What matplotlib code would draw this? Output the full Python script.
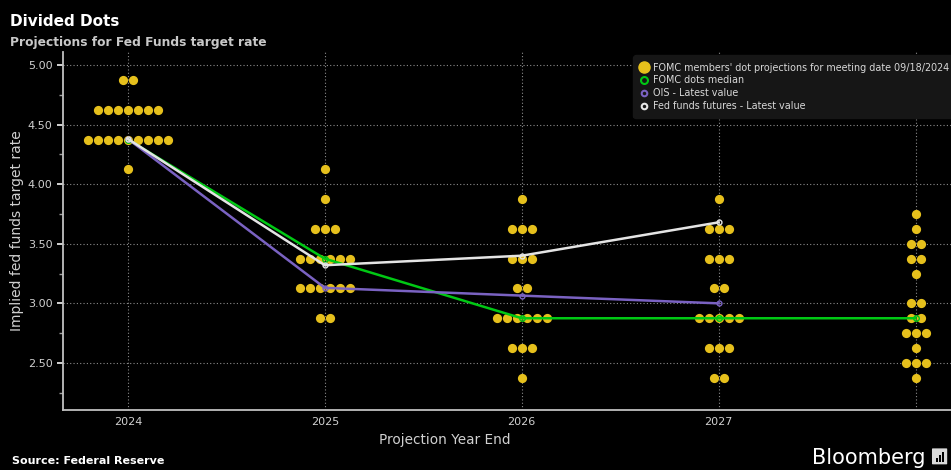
import matplotlib.pyplot as plt
from matplotlib.lines import Line2D
from matplotlib.patches import FancyBboxPatch, Rectangle

# FOMC dot plot, 09/18/2024 meeting: rate level -> number of dots, per year
years = [2024, 2025, 2026, 2027, 2028]   # 2028 = longer run (no label)
year_labels = ['2024', '2025', '2026', '2027', '']
dots_2024 = {4.875: 2, 4.625: 7, 4.375: 9, 4.125: 1}
dots_2025 = {4.125: 1, 3.875: 1, 3.625: 3, 3.375: 6, 3.125: 6, 2.875: 2}
dots_2026 = {3.875: 1, 3.625: 3, 3.375: 3, 3.125: 2, 2.875: 6, 2.625: 3, 2.375: 1}
dots_2027 = {3.875: 1, 3.625: 3, 3.375: 3, 3.125: 2, 2.875: 5, 2.625: 3, 2.375: 2}
dots_longrun = {3.75: 1, 3.625: 1, 3.5: 2, 3.375: 2, 3.25: 1, 3.0: 2,
                2.875: 2, 2.75: 3, 2.625: 1, 2.5: 3, 2.375: 1}
all_dots = [dots_2024, dots_2025, dots_2026, dots_2027, dots_longrun]

median_years = [2024, 2025, 2026, 2027, 2028]
median_vals = [4.375, 3.375, 2.875, 2.875, 2.875]
ois_years = [2024, 2025, 2026, 2027]
ois_vals = [4.38, 3.13, 3.065, 3.00]
futures_years = [2024, 2025, 2026, 2027]
futures_vals = [4.38, 3.32, 3.40, 3.68]

yticks = [2.5, 3.0, 3.5, 4.0, 4.5, 5.0]

fig = plt.figure(figsize=(9.51, 4.70), dpi=100, facecolor='black')
ax = fig.add_axes([0.0662, 0.1277, 0.9338, 0.7617], facecolor='black')

gold = '#e6c01c'
spacing = 0.0508   # horizontal gap between dots on the same level
for yr, d in zip(years, all_dots):
    xs, ys = [], []
    for lvl, n in d.items():
        for i in range(n):
            xs.append(yr + (i - (n - 1) / 2) * spacing)
            ys.append(lvl)
    ax.scatter(xs, ys, s=44, color=gold, zorder=3, linewidths=0)

ax.plot(median_years, median_vals, color='#00c814', lw=1.8, zorder=4,
        marker='o', ms=4, mfc='none', mec='#00c814')
ax.plot(ois_years, ois_vals, color='#7a62c2', lw=1.8, zorder=5,
        marker='o', ms=3.5, mfc='none', mec='#7a62c2')
ax.plot(futures_years, futures_vals, color='#e4e4e4', lw=1.8, zorder=6,
        marker='o', ms=3.5, mfc='none', mec='#e4e4e4')

ax.set_xlim(2023.67, 2028.18)
ax.set_ylim(2.105, 5.11)
ax.set_xticks(years)
ax.set_xticklabels(year_labels)
ax.set_yticks(yticks)
ax.set_yticklabels([f'{v:.2f}' for v in yticks])
ax.set_yticks([2.25, 2.75, 3.25, 3.75, 4.25, 4.75], minor=True)

ax.grid(True, color='#8c8c8c', lw=0.8, linestyle=(0, (1, 2)))
ax.set_axisbelow(True)
for s in ['top', 'right']:
    ax.spines[s].set_visible(False)
for s in ['left', 'bottom']:
    ax.spines[s].set_color('#c0c0c0')
    ax.spines[s].set_linewidth(1.3)
ax.tick_params(axis='y', colors='#d0d0d0', labelsize=8, length=4, width=1.3, color='#e0e0e0')
ax.tick_params(axis='y', which='minor', length=3, width=1, color='#a0a0a0')
ax.tick_params(axis='x', colors='#d0d0d0', labelsize=8, length=0, pad=5)

ax.set_ylabel('Implied fed funds target rate', color='#d0d0d0', fontsize=10, labelpad=3)
ax.set_xlabel('Projection Year End', color='#d0d0d0', fontsize=9.8, labelpad=2)
ax.xaxis.set_label_coords(0.43, -0.065)

handles = [
    Line2D([], [], ls='none', marker='o', ms=8, mfc=gold, mec=gold),
    Line2D([], [], ls='none', marker='o', ms=5, mfc='none', mec='#00c814', mew=1.5),
    Line2D([], [], ls='none', marker='o', ms=4, mfc='none', mec='#7a62c2', mew=1.5),
    Line2D([], [], ls='none', marker='o', ms=4, mfc='none', mec='#e4e4e4', mew=1.5),
]
labels = ["FOMC members' dot projections for meeting date 09/18/2024",
          'FOMC dots median', 'OIS - Latest value', 'Fed funds futures - Latest value']
leg = fig.legend(handles, labels, loc='upper left', bbox_to_anchor=(0.668, 0.878),
                 fontsize=6.9, frameon=True, facecolor='#161616', edgecolor='#161616',
                 framealpha=1, handlelength=0.8, handletextpad=0.5, labelspacing=0.3,
                 borderpad=0.55, borderaxespad=0)
for t in leg.get_texts():
    t.set_color('#d8d8d8')
leg.get_frame().set_boxstyle('round,pad=0.2,rounding_size=0.3')

fig.text(0.011, 0.945, 'Divided Dots', color='white', fontsize=11, fontweight='bold', va='baseline')
fig.text(0.011, 0.903, 'Projections for Fed Funds target rate', color='#c8c8c8',
         fontsize=8.8, fontweight='bold', va='baseline')
fig.text(0.013, 0.012, 'Source: Federal Reserve', color='white', fontsize=8,
         fontweight='bold', va='baseline')
fig.text(0.973, 0.012, 'Bloomberg', color='white', fontsize=15, ha='right', va='baseline')

# small logo box next to "Bloomberg"
fig.patches.append(FancyBboxPatch((0.981, 0.013), 0.014, 0.032, boxstyle='round,pad=0.001',
                                  transform=fig.transFigure, fc='#d8d8d8', ec='none'))
for bx, bh in [(0.984, 0.008), (0.9875, 0.014), (0.991, 0.020)]:
    fig.patches.append(Rectangle((bx, 0.018), 0.002, bh, transform=fig.transFigure,
                                 fc='black', ec='none'))

fig.savefig('out.png', dpi=100, facecolor='black')
